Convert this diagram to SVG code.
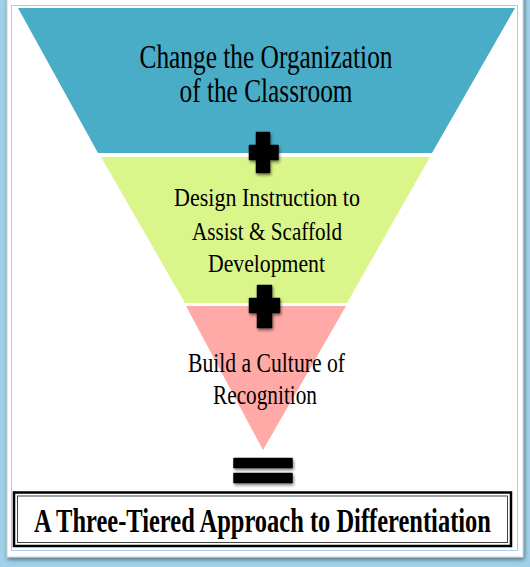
<svg xmlns="http://www.w3.org/2000/svg" width="530" height="567" viewBox="0 0 530 567">
<defs>
<style>
.t{font-family:"Liberation Serif","Times New Roman",serif;fill:#000;text-anchor:middle}
.tier{font-size:34px}
.mid{font-size:25px}
.low{font-size:27px}
.title{font-size:33px;font-weight:bold}
.sign{fill:#000;stroke:#000;stroke-width:1.5;stroke-linejoin:round}
</style>
<filter id="sh" x="-20%" y="-20%" width="140%" height="140%">
<feGaussianBlur in="SourceAlpha" stdDeviation="1.5"/>
<feOffset dx="1" dy="2" result="b"/>
<feComponentTransfer><feFuncA type="linear" slope="0.5"/></feComponentTransfer>
<feMerge><feMergeNode/><feMergeNode in="SourceGraphic"/></feMerge>
</filter>
<filter id="cardsh" x="-5%" y="-5%" width="110%" height="110%">
<feGaussianBlur in="SourceAlpha" stdDeviation="2"/>
<feOffset dx="1" dy="2"/>
<feComponentTransfer><feFuncA type="linear" slope="0.5"/></feComponentTransfer>
<feMerge><feMergeNode/><feMergeNode in="SourceGraphic"/></feMerge>
</filter>
</defs>
<rect x="0" y="0" width="530" height="567" fill="#9fd2e8"/>
<rect x="7" y="-4" width="516" height="561" fill="#ffffff" stroke="#c8d0d4" stroke-width="1" filter="url(#cardsh)"/>
<rect x="11.5" y="5.5" width="506" height="545" fill="none" stroke="#a9cdf0" stroke-width="1"/>

<g id="tier1">
<polygon points="18,8 515,8 432,153 98,153" fill="#49adc7"/>
<text class="t tier" x="266" y="68" textLength="253" lengthAdjust="spacingAndGlyphs">Change the Organization</text>
<text class="t tier" x="266" y="102" textLength="173" lengthAdjust="spacingAndGlyphs">of the Classroom</text>
</g>
<g id="tier2">
<polygon points="101,157 430,157 347,303 185,303" fill="#daf58a"/>
<text class="t mid" x="267" y="206" textLength="186" lengthAdjust="spacingAndGlyphs">Design Instruction to</text>
<text class="t mid" x="267" y="240" textLength="150" lengthAdjust="spacingAndGlyphs">Assist &amp; Scaffold</text>
<text class="t mid" x="266.5" y="272" textLength="117" lengthAdjust="spacingAndGlyphs">Development</text>
</g>
<g id="tier3">
<polygon points="186,306 346,306 263,450" fill="#ffaaa6"/>
<text class="t low" x="266.5" y="372" textLength="157" lengthAdjust="spacingAndGlyphs">Build a Culture of</text>
<text class="t low" x="265" y="404" textLength="104" lengthAdjust="spacingAndGlyphs">Recognition</text>
</g>

<g id="connectors">
<path class="sign" filter="url(#sh)" d="M256.5,132.5 h13 v13 h8.5 v14 h-8.5 v13 h-13 v-13 h-7 v-14 h7 z"/>
<path class="sign" filter="url(#sh)" d="M257.5,285.5 h14 v13 h8 v14 h-8 v15 h-14 v-15 h-8 v-14 h8 z"/>
<g filter="url(#sh)">
<rect class="sign" x="234" y="458.5" width="58" height="9"/>
<rect class="sign" x="234" y="473.5" width="58" height="9"/>
</g>
</g>

<g id="result">
<rect x="14" y="492.5" width="497" height="53.5" fill="#ffffff" stroke="#000" stroke-width="2.5"/>
<rect x="17.5" y="496" width="490" height="46.5" fill="none" stroke="#444" stroke-width="1"/>
<text class="t title" transform="translate(262.5,532) scale(0.742,1)" x="0" y="0">A Three-Tiered Approach to Differentiation</text>
</g>
</svg>
